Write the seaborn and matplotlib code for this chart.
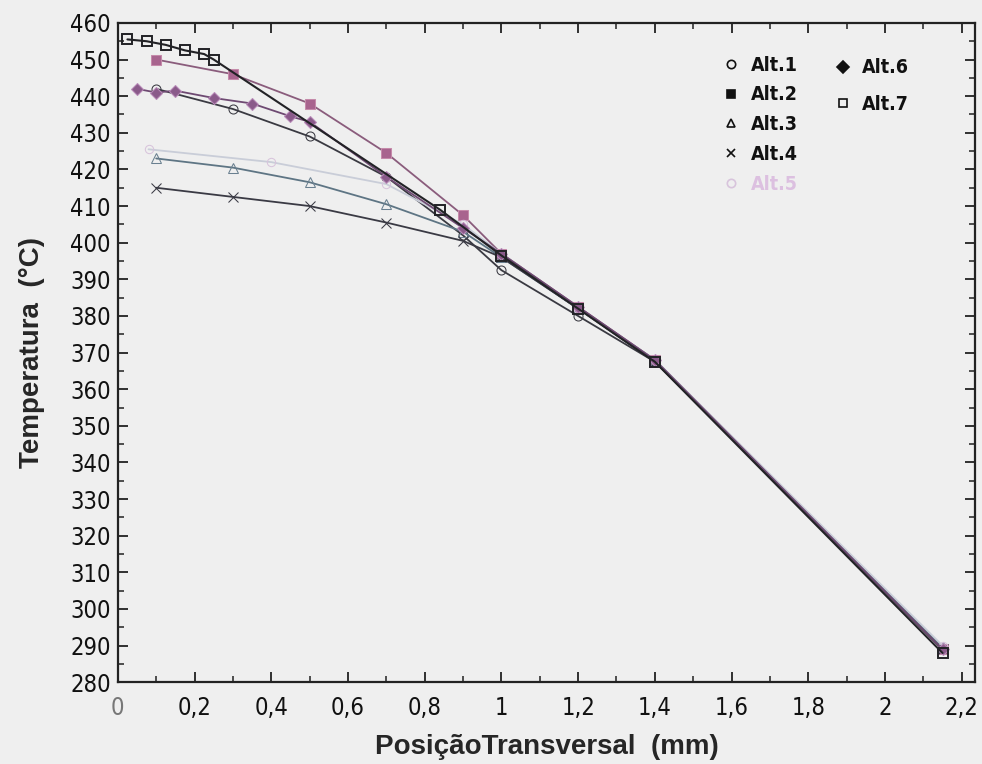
import numpy as np
import pandas as pd
import matplotlib
matplotlib.use("Agg")
import matplotlib.pyplot as plt
from matplotlib import font_manager as fm
from matplotlib.ticker import MultipleLocator, FuncFormatter
from matplotlib.lines import Line2D
import seaborn as sns

# ---- data ----
alt1_x = [0.1, 0.3, 0.5, 0.7, 0.9, 1.0, 1.2, 1.4, 2.15]
alt1_t = [442, 436.5, 429, 418, 402, 392.5, 380, 367.5, 289]

alt2_x = [0.1, 0.3, 0.5, 0.7, 0.9, 1.0, 1.2, 1.4, 2.15]
alt2_t = [450, 446, 438, 424.5, 407.5, 397, 382.5, 368, 289]

alt3_x = [0.1, 0.3, 0.5, 0.7, 0.9, 1.0, 1.2, 1.4, 2.15]
alt3_t = [423, 420.5, 416.5, 410.5, 403, 396, 382, 368, 289.5]

alt4_x = [0.1, 0.3, 0.5, 0.7, 0.9, 1.0, 1.2, 1.4, 2.15]
alt4_t = [415, 412.5, 410, 405.5, 400.5, 396, 382, 367.5, 289]

alt5_x = [0.08, 0.4, 0.7, 0.9, 1.0, 1.2, 1.4, 2.15]
alt5_t = [425.5, 422, 416, 405, 397, 382, 368, 290]

alt6_x = [0.05, 0.1, 0.15, 0.25, 0.35, 0.45, 0.5, 0.7, 0.9, 1.0, 1.2, 1.4, 2.15]
alt6_t = [442, 441, 441.5, 439.5, 438, 434.5, 433, 418, 404, 397, 382.5, 368, 289]

alt7_x = [0.025, 0.075, 0.125, 0.175, 0.225, 0.25, 0.84, 1.0, 1.2, 1.4, 2.15]
alt7_t = [455.5, 455, 454, 452.5, 451.5, 450, 409, 396.5, 382, 367.5, 288]

labels = ["Alt.1", "Alt.2", "Alt.3", "Alt.4", "Alt.5", "Alt.6", "Alt.7"]
xticks = [0, 0.2, 0.4, 0.6, 0.8, 1.0, 1.2, 1.4, 1.6, 1.8, 2.0, 2.2]
yticks = list(range(280, 461, 10))

# ---- style ----
sns.set_theme(style="ticks")
plt.rcParams["font.family"] = ["Liberation Sans", "DejaVu Sans"]

def find_font(keys):
    for k in keys:
        for f in fm.fontManager.ttflist:
            if f.fname.split("/")[-1] == k:
                return fm.FontProperties(fname=f.fname)
    return None

tick_fp = find_font(["LiberationSansNarrow-Regular.ttf", "DejaVuSansCondensed.ttf"])
leg_fp = find_font(["LiberationSansNarrow-Bold.ttf", "DejaVuSansCondensed-Bold.ttf",
                    "LiberationSans-Bold.ttf"])

bg = "#efefef"
fig = plt.figure(figsize=(9.82, 7.64), dpi=100, facecolor=bg)
ax = fig.add_axes([0.120, 0.107, 0.873, 0.863])
ax.set_facecolor(bg)

series = [
    (alt1_x, alt1_t, dict(color="#3a3a42", marker="o", mfc="none", mec="#3a3a42", ms=6.5, lw=1.3)),
    (alt2_x, alt2_t, dict(color="#8a5c7c", marker="s", mfc="#a8648e", mec="#c58aaa", ms=7.5, lw=1.3)),
    (alt3_x, alt3_t, dict(color="#5e7584", marker="^", mfc="none", mec="#6a8090", ms=7, lw=1.3)),
    (alt4_x, alt4_t, dict(color="#3a3a44", marker="x", mfc="none", mec="#3a3a44", ms=7, lw=1.3)),
    (alt5_x, alt5_t, dict(color="#c9cdd8", marker="o", mfc="none", mec="#d8c4dc", ms=6, lw=1.3)),
    (alt6_x, alt6_t, dict(color="#6e4a72", marker="D", mfc="#8a5a8a", mec="#b88ab8", ms=6, lw=1.3)),
    (alt7_x, alt7_t, dict(color="#222226", marker="s", mfc="none", mec="#222226", ms=7.5, mew=1.4, lw=1.5)),
]

for (xs, ts, kw), lab in zip(series, labels):
    df = pd.DataFrame({"x": xs, "t": ts})
    sns.lineplot(data=df, x="x", y="t", ax=ax, sort=False, estimator=None,
                 legend=False, **kw)

ax.set_xlim(0, 2.235)
ax.set_ylim(280, 460)
ax.set_xticks(xticks)
ax.set_yticks(yticks)
ax.xaxis.set_minor_locator(MultipleLocator(0.1))
ax.yaxis.set_minor_locator(MultipleLocator(5))
ax.xaxis.set_major_formatter(FuncFormatter(lambda v, p: ("%g" % round(v, 1)).replace(".", ",")))
ax.tick_params(which="both", direction="in", top=True, right=True, colors="#222222",
               labelcolor="#111111", labelsize=16)
ax.tick_params(which="major", length=7, width=1.3)
ax.tick_params(which="minor", length=4, width=1.1)
ax.tick_params(axis="x", pad=10)
ax.tick_params(axis="y", pad=5)
for s in ax.spines.values():
    s.set_linewidth(1.6)
    s.set_color("#222222")

fig.canvas.draw()
if tick_fp is not None:
    for t in ax.get_xticklabels() + ax.get_yticklabels():
        t.set_fontproperties(tick_fp)
        t.set_fontsize(17)
ax.get_xticklabels()[0].set_color("#777777")

ax.set_xlabel("PosiçãoTransversal  (mm)", fontsize=20, fontweight="bold", labelpad=10)
ax.set_ylabel("Temperatura  (°C)", fontsize=20, fontweight="bold", labelpad=18)

# ---- legend (two columns, drawn as two legends) ----
h = []
for (xs, ts, kw), lab in zip(series, labels):
    k = dict(kw)
    if lab in ("Alt.2", "Alt.6"):
        k["mfc"] = "#111111"; k["mec"] = "#111111"
    if lab in ("Alt.1", "Alt.3", "Alt.4", "Alt.7"):
        k["mec"] = "#111111"
    h.append(Line2D([], [], linestyle="none", marker=k["marker"], mfc=k["mfc"],
                    mec=k["mec"], markersize=6, markeredgewidth=1.2))

if leg_fp is not None:
    prop = leg_fp.copy()
    prop.set_size(14)
else:
    prop = dict(weight="bold", size=14)

leg1 = ax.legend(h[:5], labels[:5], loc="upper left", bbox_to_anchor=(0.695, 0.962),
                 frameon=False, prop=prop,
                 handletextpad=0.5, labelspacing=0.55, handlelength=1.0, borderaxespad=0)
leg1.get_texts()[4].set_color("#dcc0e0")
for t in leg1.get_texts()[:4]:
    t.set_color("#111111")
ax.add_artist(leg1)
leg2 = ax.legend(h[5:], labels[5:], loc="upper left", bbox_to_anchor=(0.825, 0.958),
                 frameon=False, prop=prop,
                 handletextpad=0.5, labelspacing=0.9, handlelength=1.0, borderaxespad=0)
for t in leg2.get_texts():
    t.set_color("#111111")

fig.savefig("out.png", dpi=100, facecolor=bg)
